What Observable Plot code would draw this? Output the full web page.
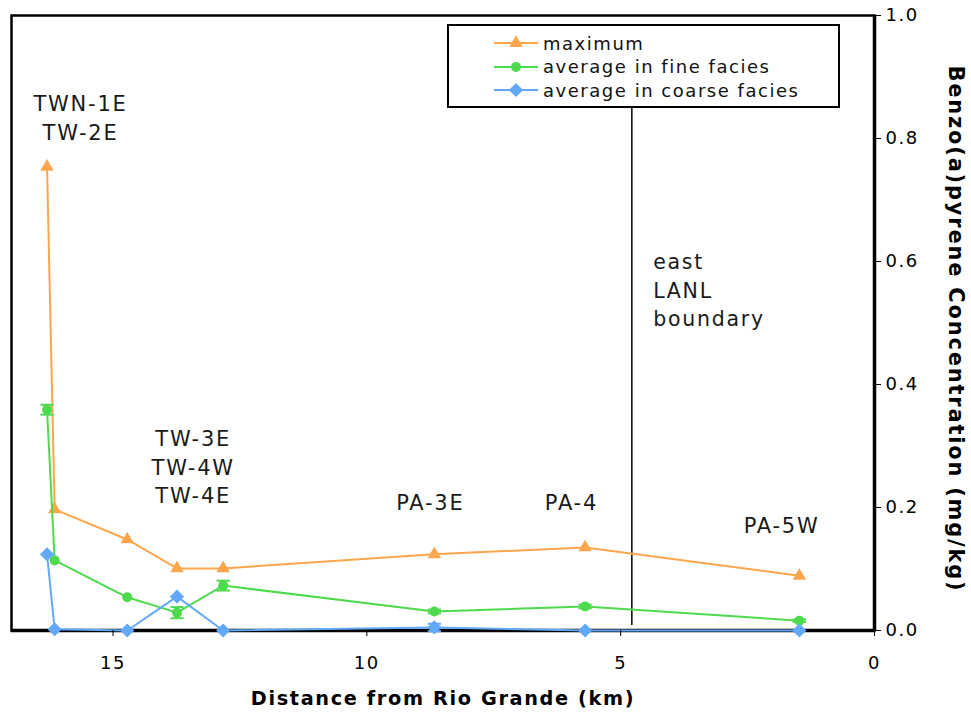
<!DOCTYPE html>
<html><head><meta charset="utf-8">
<script src="https://cdn.jsdelivr.net/npm/d3@7"></script>
<script src="https://cdn.jsdelivr.net/npm/@observablehq/plot@0.6"></script>
<style>
body{margin:0;background:#fff;font-family:"DejaVu Sans",sans-serif;}
#wrap{position:relative;width:971px;height:715px;}
#wrap svg text{letter-spacing:0.085em;}
#legend{position:absolute;left:447px;top:24px;width:393px;height:84px;border:2px solid #000;background:#fff;box-sizing:border-box;font-size:18px;color:#111;}
.row{position:absolute;left:0;height:24px;display:flex;align-items:center;}
.row svg{margin-left:44px;}
.row span{margin-left:4px;white-space:nowrap;letter-spacing:0.085em;}
</style></head><body><div id="wrap"></div>
<script>
// Distance from Rio Grande (km) for each sampling location
const distance   = [16.30, 16.15, 14.72, 13.74, 12.83, 8.67, 5.70, 1.48];
// Benzo(a)pyrene concentration (mg/kg)
const maximum    = [0.754, 0.197, 0.148, 0.101, 0.101, 0.124, 0.135, 0.089];
const fineAvg    = [0.359, 0.114, 0.054, 0.029, 0.073, 0.031, 0.039, 0.016];
const fineErr    = [0.008, 0.000, 0.000, 0.009, 0.008, 0.003, 0.003, 0.002];
const coarseAvg  = [0.124, 0.002, 0.000, 0.055, 0.000, 0.005, 0.000, 0.000];
const coarseErr  = [0.000, 0.000, 0.000, 0.000, 0.000, 0.006, 0.000, 0.000];

const seriesNames   = ["maximum", "average in fine facies", "average in coarse facies"];
const seriesColors  = ["#FFA64D", "#4DDB4D", "#62A9FA"];
const seriesSymbols = ["triangle", "circle", "diamond2"];
const seriesSizes   = [5.0, 5, 6.4];

const xTicks = [0, 5, 10, 15];
const yTicks = [0, 0.2, 0.4, 0.6, 0.8, 1.0];

// Reach annotations (label, distance km, concentration level)
const siteLabels = ["TWN-1E\nTW-2E", "TW-3E\nTW-4W\nTW-4E", "PA-3E", "PA-4", "PA-5W"];
const siteX      = [15.64, 13.42, 8.75, 5.97, 1.83];
const siteY      = [0.836, 0.268, 0.211, 0.211, 0.174];
const boundaryX  = 4.78;
const boundaryLabel = "east\nLANL\nboundary";

const seriesValues = [maximum, fineAvg, coarseAvg];
const seriesErrors = [null, fineErr, coarseErr];

const rows = [];
seriesNames.forEach((s, i) => {
  distance.forEach((d, j) => {
    rows.push({series: s, x: d, y: seriesValues[i][j], err: seriesErrors[i] ? seriesErrors[i][j] : 0});
  });
});
const errRows = rows.filter(r => r.err > 0);
const sites = siteLabels.map((t, i) => ({t, x: siteX[i], y: siteY[i]}));

const marks = [
  Plot.frame({stroke: "black", strokeWidth: 2.5}),
  Plot.ruleY([0], {stroke: "black", strokeWidth: 3.5}),
  Plot.ruleX([0], {stroke: "black", strokeWidth: 3.5}),
  Plot.ruleX([boundaryX], {y1: 0.008, y2: 0.85, stroke: "black", strokeWidth: 1.5}),
];
seriesNames.forEach((s, i) => {
  const data = rows.filter(r => r.series === s);
  const err = errRows.filter(r => r.series === s);
  marks.push(
    Plot.line(data, {x: "x", y: "y", stroke: seriesColors[i], strokeWidth: 2}),
    Plot.ruleX(err, {x: "x", y1: d => d.y - d.err, y2: d => d.y + d.err, stroke: seriesColors[i], strokeWidth: 2}),
    Plot.link(err, {x1: d => d.x + 0.13, x2: d => d.x - 0.13, y1: d => d.y - d.err, y2: d => d.y - d.err, stroke: seriesColors[i], strokeWidth: 2}),
    Plot.link(err, {x1: d => d.x + 0.13, x2: d => d.x - 0.13, y1: d => d.y + d.err, y2: d => d.y + d.err, stroke: seriesColors[i], strokeWidth: 2}),
    Plot.dot(data, {x: "x", y: "y", symbol: () => seriesSymbols[i], r: seriesSizes[i], fill: seriesColors[i], stroke: "none"})
  );
});
marks.push(
  Plot.axisX({ticks: xTicks, tickSize: 6, tickPadding: 20, fontSize: 18, label: null, tickFormat: d => String(d)}),
  Plot.axisY({anchor: "right", ticks: yTicks, tickSize: 6, tickPadding: 5, fontSize: 18, label: null, tickFormat: d3.format(".1f")}),
  Plot.text(sites, {x: "x", y: "y", text: "t", fontSize: 21, lineHeight: 1.36, fill: "#1a1a1a"}),
  Plot.text([boundaryLabel], {x: boundaryX - 0.42, y: 0.556, text: d => d, textAnchor: "start", fontSize: 20.5, lineHeight: 1.4, fill: "#1a1a1a"}),
  Plot.text(["Distance from Rio Grande (km)"], {frameAnchor: "bottom", dy: 74, fontSize: 19.3, fontWeight: "bold", fill: "black"}),
  Plot.text(["Benzo(a)pyrene Concentration (mg/kg)"], {frameAnchor: "right", textAnchor: "middle", dx: 81, dy: 6, rotate: 90, fontSize: 21, fontWeight: "bold", fill: "black"})
);

const chart = Plot.plot({
  width: 971,
  height: 715,
  marginLeft: 11,
  marginRight: 97,
  marginTop: 15,
  marginBottom: 85,
  x: {domain: [17, 0]},
  y: {domain: [0, 1]},
  style: {fontFamily: "DejaVu Sans", background: "white", color: "black", fontSize: "18px"},
  marks
});
const wrap = document.getElementById("wrap");
wrap.appendChild(chart);

// Legend inside the plot area
const legend = document.createElement("div");
legend.id = "legend";
seriesNames.forEach((s, i) => {
  const row = document.createElement("div");
  row.className = "row";
  row.style.top = (5 + i * 23.5) + "px";
  const svg = d3.create("svg").attr("width", 46).attr("height", 20);
  svg.append("line").attr("x1", 1).attr("x2", 45).attr("y1", 10).attr("y2", 10)
    .attr("stroke", seriesColors[i]).attr("stroke-width", 2);
  const sym = {triangle: d3.symbolTriangle, circle: d3.symbolCircle, diamond2: d3.symbolDiamond2}[seriesSymbols[i]];
  const r = seriesSizes[i];
  svg.append("path").attr("transform", "translate(23,10)")
    .attr("d", d3.symbol(sym, Math.PI * r * r)()).attr("fill", seriesColors[i]);
  row.appendChild(svg.node());
  const sp = document.createElement("span");
  sp.textContent = s;
  row.appendChild(sp);
  legend.appendChild(row);
});
wrap.appendChild(legend);
</script>
</body></html>
